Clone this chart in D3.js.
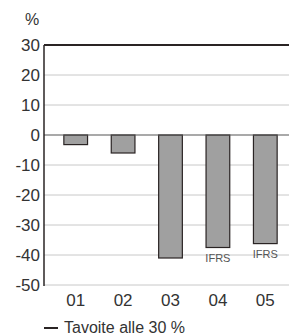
<!DOCTYPE html>
<html>
<head>
<meta charset="utf-8">
<script src="https://cdn.jsdelivr.net/npm/d3@7"></script>
<style>
  body { margin: 0; background: #fff; }
  svg { display: block; }
  text { font-family: "Liberation Sans Narrow", "Liberation Sans", sans-serif; fill: #333; }
</style>
</head>
<body>
<svg></svg>
<script>
// data
var years = ["01", "02", "03", "04", "05"];
var values = [-3.2, -6, -41, -37.5, -36.2];
var notes = ["", "", "", "IFRS", "IFRS"];
var yTicks = [30, 20, 10, 0, -10, -20, -30, -40, -50];
var target = 30;

let width = 289, height = 336;

let svg = d3.select("svg")
  .attr("width", width)
  .attr("height", height);

let axisX = 44;

let y_scale = d3.scaleLinear()
  .domain([-50, 30])
  .range([285, 45]);

let x_scale = d3.scaleBand()
  .domain(years)
  .range([52, 289])
  .paddingInner(0.5)
  .paddingOuter(0.25);

// gridlines
svg.append("g")
  .selectAll("line")
  .data(yTicks.filter(d => d != 0 && d != target))
  .enter()
  .append("line")
  .attr("x1", axisX)
  .attr("x2", width)
  .attr("y1", d => y_scale(d))
  .attr("y2", d => y_scale(d))
  .attr("stroke", "#c8c8c8")
  .attr("stroke-width", 1);

// y tick labels
svg.append("g")
  .selectAll("text")
  .data(yTicks)
  .enter()
  .append("text")
  .attr("x", 40)
  .attr("y", d => y_scale(d) + 6)
  .attr("text-anchor", "end")
  .style("font-size", "17px")
  .text(d => d);

svg.append("text")
  .attr("x", 25)
  .attr("y", 25)
  .style("font-size", "16px")
  .text("%");

// bars
svg.append("g")
  .selectAll(".bar")
  .data(values)
  .enter()
  .append("rect")
  .attr("class", "bar")
  .attr("x", (d, i) => x_scale(years[i]))
  .attr("y", d => y_scale(Math.max(0, d)))
  .attr("width", x_scale.bandwidth())
  .attr("height", d => Math.abs(y_scale(d) - y_scale(0)))
  .attr("fill", "#a0a0a0")
  .attr("stroke", "#2a2424")
  .attr("stroke-width", 1.2);

// zero line
svg.append("line")
  .attr("x1", axisX).attr("x2", width)
  .attr("y1", y_scale(0)).attr("y2", y_scale(0))
  .attr("stroke", "#555")
  .attr("stroke-width", 1.2);

// target line
svg.append("line")
  .attr("x1", axisX).attr("x2", width)
  .attr("y1", y_scale(target)).attr("y2", y_scale(target))
  .attr("stroke", "#2a2424")
  .attr("stroke-width", 2);

// y axis line
svg.append("line")
  .attr("x1", axisX).attr("x2", axisX)
  .attr("y1", y_scale(30)).attr("y2", y_scale(-50) + 1)
  .attr("stroke", "#2a2424")
  .attr("stroke-width", 1.5);

// IFRS notes
svg.append("g")
  .selectAll("text")
  .data(values)
  .enter()
  .append("text")
  .attr("x", (d, i) => x_scale(years[i]) + x_scale.bandwidth() / 2)
  .attr("y", d => y_scale(d) + 14)
  .attr("text-anchor", "middle")
  .style("font-size", "11px")
  .style("fill", "#555")
  .text((d, i) => notes[i]);

// x labels
svg.append("g")
  .selectAll("text")
  .data(years)
  .enter()
  .append("text")
  .attr("x", d => x_scale(d) + x_scale.bandwidth() / 2)
  .attr("y", 306)
  .attr("text-anchor", "middle")
  .style("font-size", "17px")
  .text(d => d);

// legend
svg.append("line")
  .attr("x1", 44).attr("x2", 58)
  .attr("y1", 328).attr("y2", 328)
  .attr("stroke", "#2a2424")
  .attr("stroke-width", 2);

svg.append("text")
  .attr("x", 64)
  .attr("y", 333)
  .style("font-size", "16px")
  .text("Tavoite alle 30 %");
</script>
</body>
</html>
